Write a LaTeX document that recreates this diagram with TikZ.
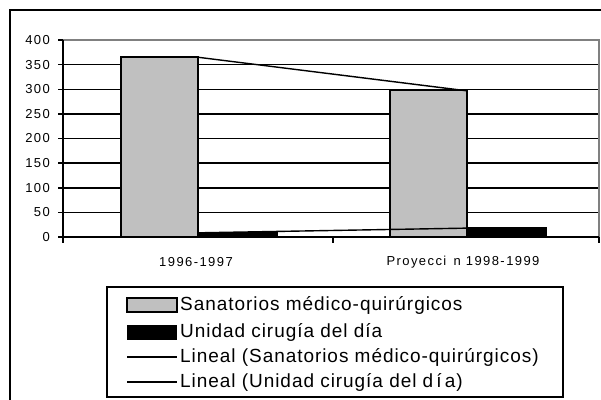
\documentclass[tikz,border=0pt]{standalone}
\usepackage{fontspec}
\setmainfont{Liberation Sans}
\newfontfamily\axisfont[LetterSpace=11]{Liberation Sans}
\newfontfamily\legfont[LetterSpace=5]{Liberation Sans}
\definecolor{bargray}{HTML}{C0C0C0}
\definecolor{bordergray}{HTML}{808080}
\tikzset{
  gridline/.style={line width=1.5pt, black},
  plotborder/.style={line width=1.4pt, bordergray},
  axisline/.style={line width=1.5pt, black},
  barbox/.style={line width=1.5pt, draw=black},
  trendline/.style={line width=1.4pt, black},
  axislabel/.style={font=\axisfont\fontsize{13}{15}\selectfont, inner sep=0pt},
  legtext/.style={font=\legfont\fontsize{19}{22}\selectfont, inner sep=0pt, anchor=west},
  frameline/.style={line width=1.6pt, black}
}
\begin{document}
\begin{tikzpicture}[x=1pt,y=-1pt]
\useasboundingbox (0,0) rectangle (601,399);
\clip (0,0) rectangle (601,399);
\fill[white] (0,0) rectangle (601,399);
% outer frame (right and bottom edges lie outside the picture)
\draw[frameline] (10,10) rectangle (620,420);
% gridlines
\foreach \v in {50,100,...,350}{
  \draw[gridline] (63,{237-0.4925*\v}) -- (599,{237-0.4925*\v});
}
% plot border (top and right)
\draw[plotborder] (63,40) -- (599,40) -- (599,237);
% bars
\draw[barbox, fill=bargray] (121,{237-0.4925*365}) rectangle (198,237);
\draw[barbox, fill=black] (198,{237-0.4925*8}) rectangle (277,237);
\draw[barbox, fill=bargray] (390,{237-0.4925*297}) rectangle (467,237);
\draw[barbox, fill=black] (467,{237-0.4925*18}) rectangle (546,237);
% trend lines
\coordinate (s1) at (198,{237-0.4925*365});
\coordinate (s2) at (466,{237-0.4925*297});
\coordinate (u1) at (198,{237-0.4925*8.5});
\coordinate (u2) at (466,{237-0.4925*18});
\draw[trendline] (s1) -- (s2);
\draw[trendline] (u1) -- (u2);
% axes
\draw[axisline] (63,40) -- (63,243);
\draw[axisline] (63,237) -- (599,237);
\foreach \v in {0,50,...,400}{
  \draw[axisline] (58,{237-0.4925*\v}) -- (63,{237-0.4925*\v});
  \node[axislabel, anchor=east] (ylab\v) at (50,{237-0.4925*\v}) {\v};
}
\foreach \x in {333,599}{
  \draw[axisline] (\x,237) -- (\x,243);
}
\node[axislabel] (xlab1) at (196,262) {1996-1997};
\node[axislabel] (xlab2) at (463,262) {Proyecci\phantom{ó}n 1998-1999};
% legend
\node[draw=black, line width=1.6pt, minimum width=456pt, minimum height=110pt, anchor=north west, inner sep=0pt] (legend) at (106,286) {};
\draw[line width=1.4pt, fill=bargray] (127,298) rectangle (177,312);
\fill[black] (127,325) rectangle (177,340);
\coordinate (l1a) at (127,357);
\coordinate (l1b) at (177,357);
\coordinate (l2a) at (127,382);
\coordinate (l2b) at (177,382);
\draw[trendline] (l1a) -- (l1b);
\draw[trendline] (l2a) -- (l2b);
\node[legtext] (leg1) at (180,305) {Sanatorios médico-quirúrgicos};
\node[legtext] (leg2) at (180,332) {Unidad cirugía del día};
\node[legtext] (leg3) at (180,357) {Lineal (Sanatorios médico-quirúrgicos)};
\node[legtext] (leg4) at (180,382) {Lineal (Unidad cirugía del d\,í\,a)};
\end{tikzpicture}
\end{document}
